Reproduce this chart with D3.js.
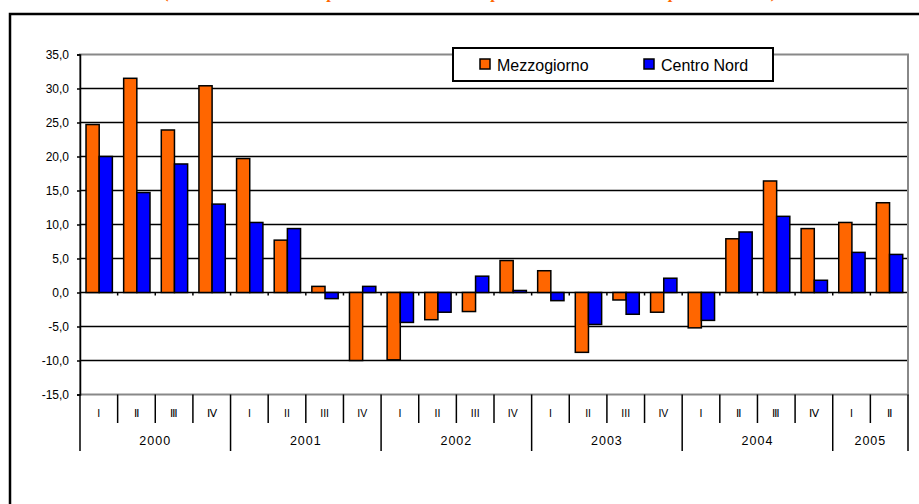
<!DOCTYPE html>
<html>
<head>
<meta charset="utf-8">
<title>Mezzogiorno / Centro Nord</title>
<script src="https://d3js.org/d3.v7.min.js"></script>
<style>
  body { margin: 0; background: #fff; }
  svg { display: block; font-family: Arial, "Liberation Sans", sans-serif; }
</style>
</head>
<body>
<div id="chart"></div>
<script>
// data
var quarters = ["I","Ⅱ","Ⅲ","Ⅳ", "I","II","III","IV", "I","II","III","IV", "I","II","III","IV", "I","Ⅱ","Ⅲ","Ⅳ", "I","Ⅱ"];
var years = ["2000","2001","2002","2003","2004","2005"];
var quartersPerYear = [4, 4, 4, 4, 4, 2];
var seriesNames = ["Mezzogiorno", "Centro Nord"];
var mezzogiorno = [24.7, 31.5, 23.9, 30.4, 19.7, 7.7, 0.9, -10.0, -9.9, -4.0, -2.8, 4.7, 3.2, -8.8, -1.1, -2.9, -5.2, 7.9, 16.4, 9.4, 10.3, 13.2];
var centroNord = [20.0, 14.7, 18.9, 13.0, 10.3, 9.4, -0.9, 0.9, -4.4, -2.9, 2.4, 0.3, -1.2, -4.7, -3.2, 2.1, -4.1, 8.9, 11.2, 1.8, 5.9, 5.6];
var yTicks = [-15, -10, -5, 0, 5, 10, 15, 20, 25, 30, 35];
var colors = ["#FF6600", "#0000FF"];
var title = "(variazioni % rispetto allo stesso periodo dell'anno precedente)";

var W = 919, H = 504;
var svg = d3.select("#chart").append("svg").attr("width", W).attr("height", H);

// title, mostly cut off at the top edge
svg.append("text")
  .attr("x", 164).attr("y", -2.5)
  .attr("textLength", 614)
  .style("font-family", "'Liberation Serif', serif")
  .style("font-size", "17px").style("font-weight", "bold").style("font-style", "italic")
  .style("fill", "#FF6600")
  .text(title);

// outer frame
svg.append("rect")
  .attr("x", 10).attr("y", 14).attr("width", 940).attr("height", 520)
  .style("fill", "none").style("stroke", "#000").style("stroke-width", 2.5);

var plotLeft = 80, plotRight = 908, plotTop = 54.5, plotBottom = 394.5;

var idx = d3.range(quarters.length);
var x0 = d3.scaleBand().domain(idx).range([plotLeft, plotRight]).padding(0);
var bw = x0.bandwidth();
var x1 = d3.scaleBand().domain(seriesNames).range([0.16 * bw, 0.86 * bw]).padding(0);
var y = d3.scaleLinear().domain([-15, 35]).range([plotBottom, plotTop]);

var loc = d3.formatLocale({decimal: ",", thousands: ".", grouping: [3], currency: ["", "€"], minus: "-"});
var fmt = loc.format(".1f");

// gridlines
svg.append("g").selectAll("line")
  .data(yTicks.filter(function(d){ return d > -15 && d < 35; }))
  .enter().append("line")
  .attr("x1", plotLeft).attr("x2", plotRight)
  .attr("y1", function(d){ return y(d); }).attr("y2", function(d){ return y(d); })
  .style("stroke", "#000").style("stroke-width", 1.5);

// plot area border (grey)
svg.append("rect")
  .attr("x", plotLeft).attr("y", y(35)).attr("width", plotRight - plotLeft).attr("height", y(-15) - y(35))
  .style("fill", "none").style("stroke", "#888").style("stroke-width", 2);

// y axis
var yAxis = d3.axisLeft(y).tickValues(yTicks).tickSize(3).tickPadding(8).tickFormat(fmt);
var gy = svg.append("g").attr("transform", "translate(" + plotLeft + ",0)").call(yAxis);
gy.select(".domain").style("stroke", "#000").style("stroke-width", 1.5);
gy.selectAll(".tick line").style("stroke", "#000").style("stroke-width", 1.5);
gy.selectAll(".tick text").style("font-size", "12px").style("fill", "#000").style("font-family", "Arial, 'Liberation Sans', sans-serif");

// bars
var series = [mezzogiorno, centroNord];
series.forEach(function(vals, s) {
  svg.append("g").selectAll("rect")
    .data(vals)
    .enter().append("rect")
    .attr("x", function(d, i){ return x0(i) + x1(seriesNames[s]); })
    .attr("width", x1.bandwidth())
    .attr("y", function(d){ return y(Math.max(0, d)); })
    .attr("height", function(d){ return Math.abs(y(d) - y(0)); })
    .style("fill", colors[s])
    .style("stroke", "#000").style("stroke-width", 1.5);
});

// small ticks on the zero line
svg.append("g").selectAll("line")
  .data(idx.slice(1))
  .enter().append("line")
  .attr("x1", function(i){ return x0(i); }).attr("x2", function(i){ return x0(i); })
  .attr("y1", y(0)).attr("y2", y(0) + 3)
  .style("stroke", "#000").style("stroke-width", 1.5);

// category axis at the bottom: quarters and years
var yearStarts = [];
var acc = 0;
quartersPerYear.forEach(function(n){ yearStarts.push(acc); acc += n; });

svg.append("g").selectAll("line")
  .data(idx.concat([quarters.length]))
  .enter().append("line")
  .attr("x1", function(i){ return i < quarters.length ? x0(i) : plotRight; })
  .attr("x2", function(i){ return i < quarters.length ? x0(i) : plotRight; })
  .attr("y1", plotBottom)
  .attr("y2", function(i){ return (yearStarts.indexOf(i) >= 0 || i === quarters.length) ? 451 : 423; })
  .style("stroke", "#000").style("stroke-width", 1.5);

svg.append("g").selectAll("text")
  .data(quarters)
  .enter().append("text")
  .attr("x", function(d, i){ return x0(i) + bw / 2; })
  .attr("y", 417)
  .attr("text-anchor", "middle")
  .style("font-size", "10.5px")
  .style("fill", "#000")
  .text(function(d){ return d; });

svg.append("g").selectAll("text")
  .data(years)
  .enter().append("text")
  .attr("x", function(d, k){
    var a = yearStarts[k], b = a + quartersPerYear[k];
    return (x0(a) + (b < quarters.length ? x0(b) : plotRight)) / 2;
  })
  .attr("y", 445)
  .attr("text-anchor", "middle")
  .style("font-size", "12.5px")
  .style("letter-spacing", "1px")
  .style("fill", "#000")
  .text(function(d){ return d; });

// legend
var lg = svg.append("g");
lg.append("rect")
  .attr("x", 453).attr("y", 48).attr("width", 320).attr("height", 33)
  .style("fill", "#fff").style("stroke", "#000").style("stroke-width", 2);
var legX = [480, 644];
seriesNames.forEach(function(n, s) {
  lg.append("rect")
    .attr("x", legX[s]).attr("y", 59).attr("width", 10).attr("height", 10)
    .style("fill", colors[s]).style("stroke", "#000").style("stroke-width", 1.5);
  lg.append("text")
    .attr("x", legX[s] + 17).attr("y", 71)
    .style("font-size", "16px")
    .style("fill", "#000")
    .text(n);
});
</script>
</body>
</html>
